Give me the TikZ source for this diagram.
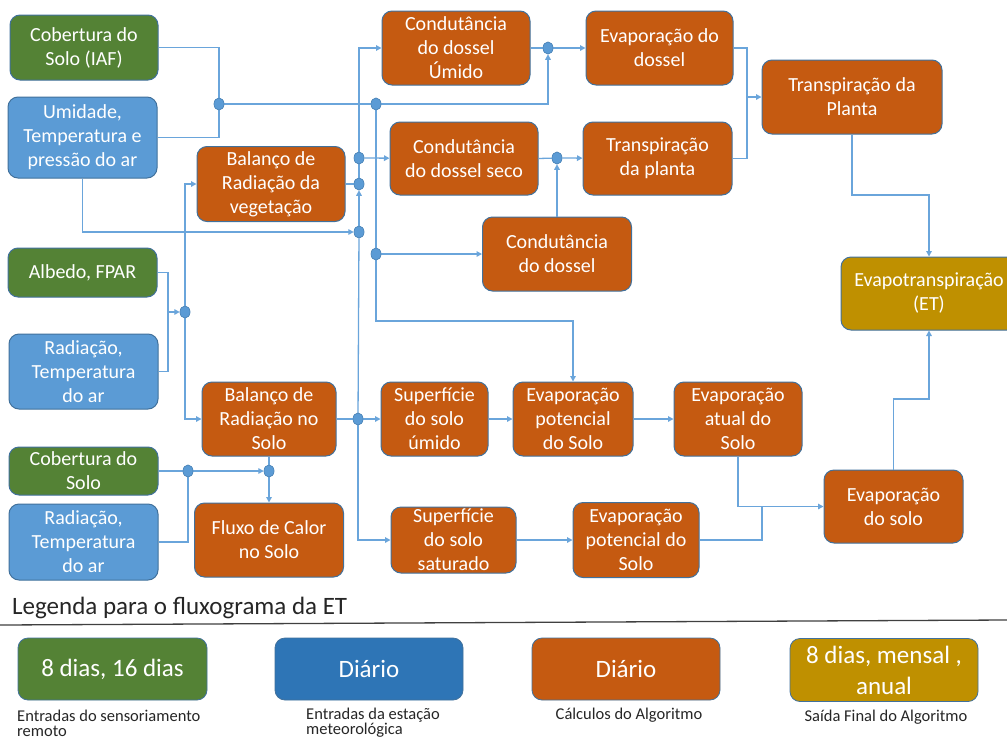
\documentclass[tikz,border=0pt]{standalone}
\usepackage{fontspec}
\setmainfont{Carlito}
\usetikzlibrary{arrows.meta,shapes.geometric}
\definecolor{cgreen}{HTML}{548235}
\definecolor{cblue}{HTML}{5B9BD5}
\definecolor{corange}{HTML}{C55A11}
\definecolor{cgold}{HTML}{BF9000}
\definecolor{clegblue}{HTML}{2E75B6}
\definecolor{cedge}{HTML}{41719C}
\definecolor{cline}{HTML}{6AA5DB}
\definecolor{ctext}{HTML}{262626}
\begin{document}
\begin{tikzpicture}[x=1pt,y=-1pt,
  sz/.style 2 args={minimum width=#1,minimum height=#2},
  box/.style={draw=cedge,line width=1pt,rounded corners=10pt,text=white,align=center,inner sep=0pt,font=\fontsize{20}{24}\selectfont},
  calc/.style={box,fill=corange},
  rsin/.style={box,fill=cgreen},
  meto/.style={box,fill=cblue},
  outb/.style={box,fill=cgold},
  lbox/.style={draw=cedge,line width=0.8pt,rounded corners=10pt,text=white,align=center,inner sep=0pt,font=\fontsize{25}{31}\selectfont,minimum width=188pt,minimum height=62pt},
  jd/.style={ellipse,fill=cblue,draw=cedge!50!cblue,line width=0.5pt,minimum width=10pt,minimum height=12pt,inner sep=0pt},
  conn/.style={draw=cline,line width=1.3pt},
  arr/.style={conn,-{Triangle[length=5.5pt,width=5.5pt]}},
  lab/.style={text=ctext,inner sep=0pt,font=\fontsize{16.5}{16}\selectfont}
]
\fill[white] (0,0) rectangle (1007,742);
\useasboundingbox (0,0) rectangle (1007,742);

% ---- input boxes
\node[rsin,sz={148pt}{65pt}] (csi) at (84,47.5) {Cobertura do\\Solo (IAF)};
\node[meto,sz={149pt}{81pt}] (utp) at (82.5,137.5) {Umidade,\\Temperatura e\\pressão do ar};
\node[rsin,sz={149pt}{49pt}] (alb) at (82.5,272.5) {Albedo, FPAR};
\node[meto,sz={149pt}{75pt}] (rt1) at (83.5,371.5) {Radiação,\\Temperatura\\do ar};
\node[rsin,sz={149pt}{48pt}] (cs) at (83.5,471) {Cobertura do\\Solo};
\node[meto,sz={149pt}{76pt}] (rt2) at (83.5,542) {Radiação,\\Temperatura\\do ar};

% ---- calculation boxes
\node[calc,sz={148pt}{74pt}] (cdu) at (456,48) {Condutância\\do dossel\\Úmido};
\node[calc,sz={147pt}{74pt}] (evd) at (659.5,48) {Evaporação do\\dossel};
\node[calc,sz={148pt}{73pt}] (cds) at (464,158.5) {Condutância\\do dossel seco};
\node[calc,sz={149pt}{73pt}] (trp) at (657.5,158.5) {Transpiração\\da planta};
\node[calc,sz={149pt}{74pt}] (cd) at (557,254) {Condutância\\do dossel};
\node[calc,sz={148pt}{75pt}] (brv) at (271,184) {Balanço de\\Radiação da\\vegetação};
\node[calc,sz={180pt}{74pt}] (tpl) at (852,97) {Transpiração da\\Planta};
\node[outb,sz={176pt}{73pt}] (et) at (929,293.5) {Evapotranspiração\\(ET)};
\node[calc,sz={134pt}{74pt}] (brs) at (269,419) {Balanço de\\Radiação no\\Solo};
\node[calc,sz={107pt}{74pt}] (ssu) at (434.5,419) {Superfície\\do solo\\úmido};
\node[calc,sz={120pt}{74pt}] (epu) at (573,419) {Evaporação\\potencial\\do Solo};
\node[calc,sz={128pt}{74pt}] (eat) at (738,419) {Evaporação\\atual do\\Solo};
\node[calc,sz={149pt}{74pt}] (fcs) at (269,540) {Fluxo de Calor\\no Solo};
\node[calc,sz={125pt}{66pt}] (sss) at (453.5,540) {Superfície\\do solo\\saturado};
\node[calc,sz={126pt}{75pt}] (epl) at (636,540) {Evaporação\\potencial do\\Solo};
\node[calc,sz={139pt}{73pt}] (evs) at (893.5,506.5) {Evaporação\\do solo};

% ---- junction dots
\node[jd] (d1) at (219,104) {};
\node[jd] (d2) at (376,104) {};
\node[jd] (d3) at (548,48) {};
\node[jd] (d4) at (359,158) {};
\node[jd] (d5) at (359,184) {};
\node[jd] (d6) at (359,232) {};
\node[jd] (d7) at (376,254) {};
\node[jd] (d8) at (557,158) {};
\node[jd] (d9) at (185,312) {};
\node[jd] (d10) at (358,419) {};
\node[jd] (d11) at (188,471) {};
\node[jd] (d12) at (269,471) {};

\coordinate (c1) at (376,321);
\coordinate (c2) at (168,312);
\coordinate (c3) at (747,97);
\coordinate (c4) at (852,195);
\coordinate (c5) at (893.5,399);
\coordinate (c6) at (762,506.5);

% ---- connectors
\draw[conn] (csi.east) -| (d1);
\draw[conn] (utp.east) -| (d1);
\draw[conn] (d1) -- (d2);
\draw[arr] (d2) -| (d3);
\draw[arr] (d2) -- (c1) -| (epu);
\draw[arr] (d7) -- (cd);
\draw[arr] (utp.south) |- (d6);
\draw[arr] (d4) |- (cdu);
\draw[arr] (d4) -- (cds);
\draw[conn] (brv.east) -- (d5);
\draw[conn] (d5) -- (d4);
\draw[arr] (d6) -- (d5);
\draw[conn] (d10) -- (d6);
\draw[conn] (brs.east) -- (d10);
\draw[arr] (d10) -- (ssu);
\draw[arr] (d10) |- (sss);
\draw[conn] (alb.east) -| (c2);
\draw[conn] (rt1.east) -| (c2);
\draw[arr] (c2) -- (d9);
\draw[arr] (d9) |- (brv);
\draw[arr] (d9) |- (brs);
\draw[conn] (cs.east) -- (d11);
\draw[conn] (rt2.east) -| (d11);
\draw[arr] (d11) -- (d12);
\draw[conn] (brs.south) -- (d12);
\draw[arr] (d12) -- (fcs);
\draw[conn] (cdu.east) -- (d3);
\draw[arr] (d3) -- (evd);
\draw[conn] (cds.east) -- (d8);
\draw[arr] (d8) -- (trp);
\draw[arr] (cd.north) -- (d8);
\draw[conn] (evd.east) -| (c3);
\draw[conn] (trp.east) -| (c3);
\draw[arr] (c3) -- (tpl.west);
\draw[arr] (tpl.south) -- (c4) -| (et.north);
\draw[arr] (evs.north) -- (c5) -| (et.south);
\draw[arr] (eat.south) |- (evs.west);
\draw[conn] (epl.east) -| (c6);
\draw[arr] (ssu) -- (epu);
\draw[arr] (epu) -- (eat);
\draw[arr] (sss) -- (epl);

% redraw dots on top
\foreach \d in {d1,d2,d3,d4,d5,d6,d7,d8,d9,d10,d11,d12}
  \node[jd] at (\d) {};

% ---- legend
\node[anchor=base west,inner sep=0pt,text=ctext,font=\fontsize{25}{30}\selectfont] (lt) at (12,614) {Legenda para o fluxograma da ET};
\coordinate (ll) at (0,625);
\coordinate (lr) at (1007,620);
\draw[draw=black!75,line width=1.3pt] (ll) -- (lr);

\node[lbox,fill=cgreen,minimum width=189pt] (lg1) at (112.5,669) {8 dias, 16 dias};
\node[lbox,fill=clegblue] (lg2) at (369,669) {Diário};
\node[lbox,fill=corange] (lg3) at (626,669) {Diário};
\node[lbox,fill=cgold,minimum height=63pt] (lg4) at (884,670) {8 dias, mensal ,\\anual};

\node[lab,anchor=base west] (la1) at (17,721.5) {Entradas do sensoriamento};
\node[lab,anchor=base west] (la2) at (17,736.5) {remoto};
\node[lab,anchor=base west] (lb1) at (306,719.5) {Entradas da estação};
\node[lab,anchor=base west] (lb2) at (306,734.5) {meteorológica};
\node[lab,anchor=base] (lc1) at (629,719) {Cálculos do Algoritmo};
\node[lab,anchor=base] (ld1) at (886,721) {Saída Final do Algoritmo};
\end{tikzpicture}
\end{document}
